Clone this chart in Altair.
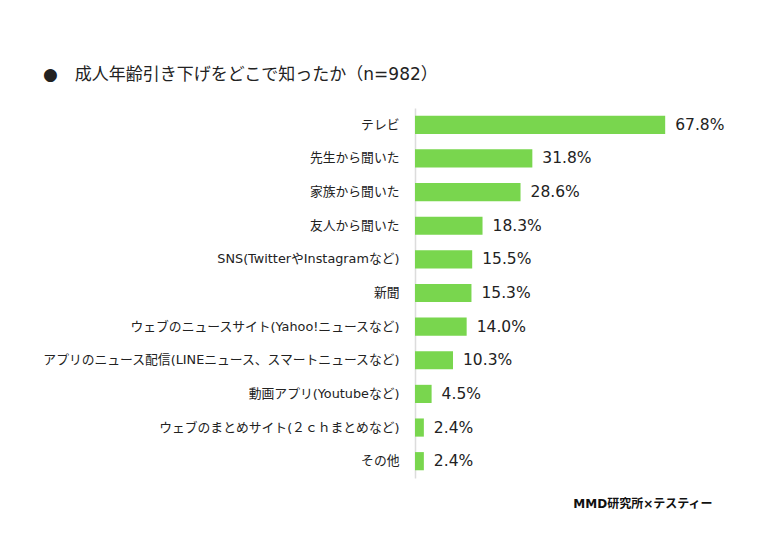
import altair as alt
import pandas as pd

categories = [
    "テレビ",
    "先生から聞いた",
    "家族から聞いた",
    "友人から聞いた",
    "SNS(TwitterやInstagramなど)",
    "新聞",
    "ウェブのニュースサイト(Yahoo!ニュースなど)",
    "アプリのニュース配信(LINEニュース、スマートニュースなど)",
    "動画アプリ(Youtubeなど)",
    "ウェブのまとめサイト(２ｃｈまとめなど)",
    "その他",
]
values = [67.8, 31.8, 28.6, 18.3, 15.5, 15.3, 14.0, 10.3, 4.5, 2.4, 2.4]
labels = [f"{v:.1f}%" for v in values]

df = pd.DataFrame({"cat": categories, "val": values, "label": labels})

FONT = "DejaVu Sans, Noto Sans CJK JP"

y_enc = alt.Y(
    "cat:N",
    sort=categories,
    scale=alt.Scale(paddingInner=0.46, paddingOuter=0.23),
    axis=alt.Axis(
        title=None,
        ticks=False,
        domain=True,
        domainColor="#dcdcdc",
        domainWidth=1.5,
        labelFont=FONT,
        labelFontSize=12.8,
        labelColor="#222222",
        labelPadding=16,
        labelLimit=400,
    ),
)
x_enc = alt.X(
    "val:Q",
    scale=alt.Scale(domain=[0, 81.3], nice=False),
    axis=alt.Axis(
        labels=False, ticks=False, domain=False, grid=False,
        title="MMD研究所×テスティー",
        titleFont=FONT, titleFontSize=12, titleFontWeight="bold",
        titleColor="#111111", titleAnchor="end", titleX=297, titleY=20,
        titleAlign="right",
    ),
)

bars = alt.Chart(df).mark_bar(color="#79d64e").encode(x=x_enc, y=y_enc)
text = alt.Chart(df).mark_text(
    align="left", dx=10, font=FONT, fontSize=15.5, color="#222222"
).encode(x="val:Q", y=alt.Y("cat:N", sort=categories), text="label:N")

chart = (
    alt.layer(bars, text)
    .properties(
        width=300,
        height=370,
        autosize=alt.AutoSizeParams(type="none"),
        padding={"left": 407, "top": 100, "right": 45, "bottom": 51},
        title=alt.TitleParams(
            "●　成人年齢引き下げをどこで知ったか（n=982）",
            anchor="start",
            frame="group",
            dx=-372,
            offset=24,
            font=FONT,
            fontSize=17,
            fontWeight="normal",
            color="#222222",
        ),
        background="white",
    )
    .configure_view(stroke=None)
)

chart.save("out.html", embed_options={"renderer": "svg", "actions": False})
